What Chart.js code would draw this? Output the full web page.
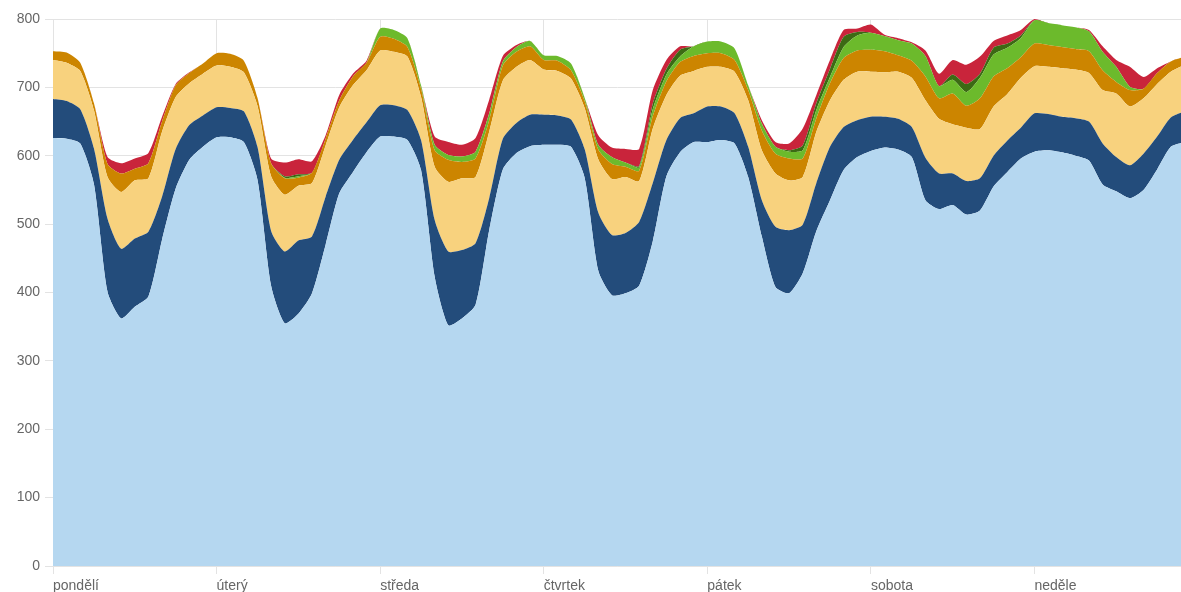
<!DOCTYPE html>
<html>
<head>
<meta charset="utf-8">
<script src="https://cdn.jsdelivr.net/npm/chart.js@4.4.1/dist/chart.umd.min.js"></script>
<style>
  html, body { margin: 0; padding: 0; background: #fff; }
  #wrap { width: 1181px; height: 592px; position: relative; }
</style>
</head>
<body>
<div id="wrap"><canvas id="c" width="1181" height="592"></canvas></div>
<script>
// Day labels (one per 24 h)
const dayLabels = ['pondělí', 'úterý', 'středa', 'čtvrtek', 'pátek', 'sobota', 'neděle'];
const yTicks = [0, 100, 200, 300, 400, 500, 600, 700, 800];
const stepHours = 2; // one value every two hours

// Series values (stack order bottom -> top), 12 values per day + final point
const lightBlue = [
  626, 625, 618, 559, 401, 362, 379, 394, 477, 552, 594, 613,
  627, 627, 620, 565, 410, 355, 369, 399, 470, 545, 576, 605,
  628, 628, 623, 579, 423, 352, 362, 382, 491, 580, 604, 614,
  616, 616, 613, 568, 432, 396, 399, 410, 475, 570, 605, 620,
  620, 623, 618, 569, 482, 408, 399, 428, 490, 535, 579, 598,
  607, 612, 609, 598, 535, 522, 528, 514, 520, 555, 576, 596,
  606, 608, 605, 600, 593, 558, 548, 538, 550, 580, 613,
  620
];
const darkBlue = [
  57, 55, 50, 52, 107, 102, 100, 95, 63, 58, 51, 46,
  44, 43, 45, 48, 80, 105, 107, 83, 70, 49, 47, 44,
  46, 46, 44, 44, 83, 108, 100, 90, 47, 45, 44, 46,
  44, 43, 40, 42, 85, 88, 88, 93, 85, 53, 50, 42,
  52, 49, 44, 44, 53, 88, 92, 71, 70, 78, 63, 54,
  50, 45, 45, 44, 62, 52, 46, 49, 47, 45, 46, 45,
  56, 53, 52, 55, 57, 60, 50, 48, 53, 48, 43,
  45
];
const yellow = [
  57, 56, 56, 56, 61, 83, 85, 78, 95, 76, 61, 61,
  61, 60, 57, 60, 80, 83, 80, 78, 75, 77, 80, 76,
  80, 78, 78, 63, 78, 102, 105, 97, 97, 85, 82, 80,
  66, 65, 60, 60, 78, 82, 82, 60, 80, 66, 62, 62,
  58, 58, 61, 68, 73, 78, 73, 70, 75, 68, 69, 71,
  66, 65, 69, 72, 84, 80, 72, 78, 72, 72, 68, 73,
  69, 69, 71, 71, 71, 78, 93, 86, 81, 77, 67,
  68
];
const orange = [
  13, 15, 12, 10, 19, 27, 17, 22, 15, 17, 15, 15,
  18, 19, 17, 12, 19, 24, 12, 15, 10, 10, 13, 11,
  20, 19, 14, 12, 24, 32, 24, 27, 17, 22, 22, 20,
  14, 15, 12, 10, 14, 22, 15, 15, 18, 20, 20, 22,
  20, 20, 17, 15, 29, 29, 32, 27, 20, 25, 32, 31,
  32, 31, 24, 25, 35, 30, 45, 32, 45, 44, 38, 30,
  33, 32, 31, 30, 32, 29, 17, 24, 14, 16, 15,
  12
];
const lightGreen = [
  0, 0, 0, 0, 0, 0, 0, 0, 0, 0, 0, 0,
  0, 0, 0, 0, 0, 1, 2, 0, 0, 0, 0, 0,
  12, 13, 13, 5, 8, 7, 8, 10, 10, 6, 7, 8,
  7, 7, 10, 5, 7, 10, 6, 5, 10, 10, 8, 14,
  17, 17, 17, 7, 10, 10, 10, 12, 12, 9, 16, 22,
  25, 22, 22, 25, 30, 18, 20, 20, 30, 32, 30, 28,
  34, 32, 32, 32, 29, 27, 22, 5, 0, 0, 0,
  0
];
const darkGreen = [
  0, 0, 0, 0, 0, 0, 0, 0, 0, 0, 0, 0,
  0, 0, 0, 0, 0, 2, 3, 0, 0, 0, 0, 0,
  0, 0, 0, 0, 0, 0, 0, 0, 0, 0, 0, 0,
  0, 0, 0, 0, 0, 0, 0, 2, 8, 8, 10, 0,
  0, 0, 0, 0, 0, 0, 2, 7, 10, 12, 15, 5,
  0, 0, 0, 0, 0, 0, 8, 12, 6, 10, 6, 4,
  0, 0, 0, 0, 0, 0, 0, 0, 0, 0, 0,
  0
];
const red = [
  0, 0, 0, 0, 10, 15, 15, 15, 7, 2, 1, 0,
  0, 0, 0, 0, 7, 20, 22, 17, 5, 8, 4, 3,
  0, 0, 0, 0, 12, 19, 17, 20, 20, 8, 3, 0,
  0, 0, 0, 0, 14, 14, 20, 25, 20, 13, 5, 0,
  0, 0, 0, 0, 5, 7, 10, 25, 12, 13, 10, 5,
  12, 2, 3, 2, 8, 18, 21, 28, 25, 10, 12, 8,
  2, 0, 0, 0, 2, 8, 10, 29, 17, 7, 0,
  0
];

const seriesList = [
  { name: 'lightBlue',  values: lightBlue,  color: '#b5d7f0' },
  { name: 'darkBlue',   values: darkBlue,   color: '#234c7b' },
  { name: 'yellow',     values: yellow,     color: '#f8d27e' },
  { name: 'orange',     values: orange,     color: '#cc8500' },
  { name: 'lightGreen', values: lightGreen, color: '#6cba2c' },
  { name: 'darkGreen',  values: darkGreen,  color: '#3c6a14' },
  { name: 'red',        values: red,        color: '#c9243b' }
];

const datasets = seriesList.map((s, i) => ({
  label: s.name,
  data: s.values.map((v, k) => ({ x: k * stepHours, y: v })),
  backgroundColor: s.color,
  borderColor: 'rgba(0,0,0,0)',
  borderWidth: 0,
  fill: i === 0 ? 'origin' : '-1',
  pointRadius: 0,
  tension: 0.22
}));

const dayTickValues = dayLabels.map((_, d) => d * 24);
const fontSpec = { family: "'Liberation Sans', Arial, sans-serif", size: 14 };

new Chart(document.getElementById('c'), {
  type: 'line',
  data: { datasets },
  options: {
    responsive: false,
    animation: false,
    layout: { padding: { top: 19, right: 0, bottom: 0, left: 0 } },
    plugins: { legend: { display: false }, tooltip: { enabled: false } },
    scales: {
      x: {
        type: 'linear',
        min: 0,
        max: 165.5,
        afterBuildTicks: (s) => { s.ticks = dayTickValues.map(v => ({ value: v })); },
        afterFit: (s) => { s.height = 26; },
        grid: { color: '#e3e3e3', tickLength: 8 },
        border: { color: '#e3e3e3' },
        ticks: {
          align: 'start',
          maxRotation: 0,
          autoSkip: false,
          padding: 4,
          color: '#666',
          font: fontSpec,
          callback: (v) => dayLabels[Math.round(v / 24)] ?? ''
        }
      },
      y: {
        stacked: true,
        min: 0,
        max: 800,
        afterBuildTicks: (s) => { s.ticks = yTicks.map(v => ({ value: v })); },
        afterFit: (s) => { s.width = 53; },
        grid: { color: '#e3e3e3', tickLength: 8 },
        border: { color: '#e3e3e3' },
        ticks: { color: '#666', font: fontSpec, padding: 5 }
      }
    }
  }
});
</script>
</body>
</html>
